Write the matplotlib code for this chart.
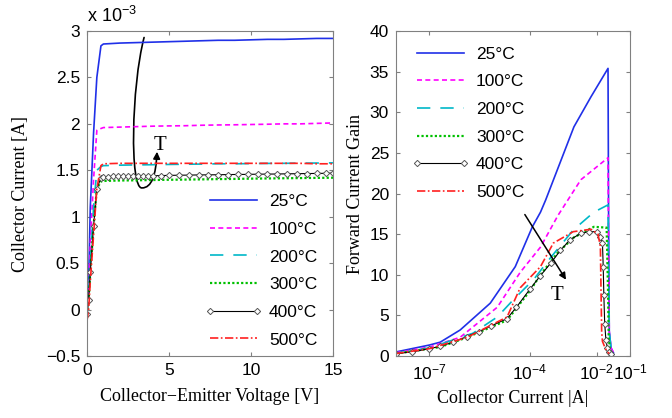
import matplotlib
matplotlib.use("Agg")
import matplotlib.pyplot as plt
import numpy as np
from matplotlib.path import Path
from matplotlib.patches import FancyArrowPatch
from matplotlib.ticker import FuncFormatter, FixedLocator, NullLocator

# ---- data: output characteristics (left) ----
temps = ["25°C", "100°C", "200°C", "300°C", "400°C", "500°C"]
vce = [0, 0.1, 0.2, 0.4, 0.6, 0.85, 1, 2, 3, 4, 5, 6, 7, 8, 9, 10, 11, 12, 13, 14, 15]
ic_25 = [0.0, 0.3, 1.1, 1.9, 2.5, 2.84, 2.86, 2.87, 2.875, 2.88, 2.885, 2.89, 2.895, 2.9, 2.9,
         2.905, 2.91, 2.91, 2.915, 2.92, 2.92]
ic_100 = [0.0, 0.2, 0.7, 1.4, 1.93, 1.95, 1.96, 1.965, 1.97, 1.975, 1.978, 1.98, 1.985, 1.988,
          1.99, 1.993, 1.996, 2.0, 2.0, 2.005, 2.01]
ic_200 = [0.0, 0.15, 0.5, 1.1, 1.5, 1.54, 1.55, 1.555, 1.558, 1.56, 1.563, 1.565, 1.567, 1.57,
          1.57, 1.572, 1.574, 1.575, 1.577, 1.578, 1.58]
ic_300 = [-0.05, 0.1, 0.4, 0.9, 1.3, 1.38, 1.385, 1.39, 1.392, 1.395, 1.398, 1.4, 1.402, 1.405,
          1.407, 1.41, 1.412, 1.414, 1.416, 1.418, 1.42]
vce_400 = [0, 0.1, 0.2, 0.4, 0.6, 0.85, 1.0, 1.3, 1.6, 1.9, 2.2, 2.5, 2.8, 3.1, 3.4, 3.7, 4.0, 4.5,
           5.0, 5.6, 6.2, 6.8, 7.4, 8.0, 8.6, 9.2, 9.8, 10.4, 11.0, 11.6, 12.2, 12.8, 13.4, 14.0, 14.6, 15.0]
ic_400 = [-0.05, 0.1, 0.4, 0.9, 1.3, 1.42, 1.43, 1.432, 1.434, 1.435, 1.436, 1.437, 1.438, 1.439,
          1.44, 1.441, 1.442, 1.443, 1.445, 1.447, 1.448, 1.45, 1.451, 1.452, 1.454, 1.455, 1.456,
          1.458, 1.459, 1.46, 1.462, 1.463, 1.465, 1.466, 1.468, 1.47]
ic_500 = [-0.12, 0.0, 0.3, 0.8, 1.3, 1.55, 1.57, 1.575, 1.575, 1.575, 1.575, 1.575, 1.575, 1.575,
          1.575, 1.575, 1.575, 1.575, 1.575, 1.57, 1.57]
ic_scale = 1e-3  # values above are in mA -> amps

# ---- data: current gain (right) ----
g25_ic = [1e-8, 1e-7, 2.1e-7, 8.3e-7, 6.6e-6, 3.7e-5, 1.2e-4, 2.1e-4, 3e-4, 2.1e-3, 6.8e-3,
          2.2e-2, 2.3e-2, 2.4e-2, 2.7e-2, 3.2e-2]
g25 = [0.5, 1.35, 1.7, 3.2, 6.5, 11.0, 15.9, 17.7, 19.2, 28.2, 31.9, 35.4, 15, 3, 1, 0.4]
g100_ic = [1e-8, 1e-7, 8.3e-7, 1.07e-5, 5.2e-5, 2.1e-4, 7e-4, 3.4e-3, 2.2e-2, 2.3e-2, 2.4e-2,
           2.7e-2, 3.2e-2]
g100 = [0.4, 1.1, 2.3, 6.0, 10.3, 13.4, 17.3, 21.7, 24.4, 12, 3, 1, 0.4]
g200_ic = [1e-8, 1e-7, 2e-6, 1.07e-5, 3.2e-5, 1.3e-4, 4.2e-4, 2e-3, 8.3e-3, 2.2e-2, 2.3e-2,
           2.4e-2, 2.7e-2, 3.2e-2]
g200 = [0.3, 1.0, 2.8, 4.8, 6.9, 9.4, 12.1, 15.5, 17.7, 18.6, 10, 3, 1, 0.4]
g300_ic = [1e-8, 2.1e-7, 1.35e-6, 2.1e-5, 1.05e-4, 2.1e-4, 6.8e-4, 2.1e-3, 8.3e-3, 2e-2, 2.2e-2,
           2.3e-2, 2.5e-2, 3e-2]
g300 = [0.3, 1.1, 2.3, 4.4, 8.1, 10.0, 12.7, 14.6, 15.9, 15.8, 8, 2.5, 0.8, 0.3]
g400_ic = [1e-8, 3e-8, 1e-7, 2.1e-7, 5e-7, 1.35e-6, 3e-6, 7e-6, 2.1e-5, 4e-5, 1.05e-4, 2.1e-4,
           4.2e-4, 8.3e-4, 1.6e-3, 3.4e-3, 6e-3, 1e-2, 1.3e-2, 1.5e-2, 1.58e-2, 1.65e-2, 1.75e-2,
           1.9e-2, 2.1e-2, 2.4e-2, 2.7e-2]
g400 = [0.3, 0.5, 0.9, 1.2, 1.7, 2.4, 3.0, 3.7, 4.6, 6.0, 8.3, 9.9, 11.4, 13.0, 14.3, 15.1, 15.3,
        15.3, 14.6, 13.9, 11, 7.5, 4, 2, 1, 0.5, 0.3]
g500_ic = [1e-8, 1e-7, 1.35e-6, 2.1e-5, 5.2e-5, 2.1e-4, 5.1e-4, 2e-3, 6.8e-3, 1.1e-2, 1.3e-2,
           1.36e-2, 1.42e-2, 1.5e-2, 1.8e-2, 2.1e-2, 2.4e-2]
g500 = [0.3, 0.9, 2.3, 4.8, 8.4, 11.0, 13.9, 15.3, 15.6, 15.0, 13.5, 8, 3, 1.8, 1, 0.5, 0.3]

# line styles per temperature
styles = [
    dict(color="#2030e8", ls="-", lw=1.2),
    dict(color="#ff00ff", ls=(0, (3, 2)), lw=1.2),
    dict(color="#00b8c8", ls=(0, (8, 6)), lw=1.2),
    dict(color="#00c000", ls=(0, (1, 1)), lw=1.6),
    dict(color="black", ls="-", lw=0.8, marker="D", ms=3.2, mfc="white", mec="#555555", mew=0.7),
    dict(color="#ff2020", ls=(0, (5, 1.5, 1, 1.5)), lw=1.2),
]

sans = "Liberation Sans"
serif = "Liberation Serif"
plt.rcParams["font.family"] = sans
plt.rcParams["mathtext.fontset"] = "custom"
plt.rcParams["mathtext.rm"] = sans

fig = plt.figure(figsize=(6.72, 4.18), dpi=100)
ax1 = fig.add_axes([87 / 672, 62 / 418, 246 / 672, 325 / 418])
ax2 = fig.add_axes([396 / 672, 62 / 418, 234 / 672, 325 / 418])

for ax in (ax1, ax2):
    for s in ax.spines.values():
        s.set_color("#808080")
    ax.tick_params(direction="in", top=True, right=True, length=3, color="#808080",
                   labelsize=12.5, labelcolor="black", pad=5)

# left plot
left_x = [vce, vce, vce, vce, vce_400, vce]
left_series = [ic_25, ic_100, ic_200, ic_300, ic_400, ic_500]
for lab, xs, ys, st in zip(temps, left_x, left_series, styles):
    ax1.plot(xs, np.array(ys) * ic_scale, label=lab, **st)

ax1.set_xlim(0, 15)
ax1.set_ylim(-0.5e-3, 3e-3)
ax1.set_xticks([0, 5, 10, 15])
ax1.set_yticks(np.arange(-0.5, 3.01, 0.5) * ic_scale)
ax1.yaxis.set_major_formatter(FuncFormatter(lambda v, p: f"{v / ic_scale:g}".replace("-", "\u2212")))
ax1.text(0.0, 1.015, "x 10$^{-3}$", transform=ax1.transAxes, fontsize=13, ha="left", va="bottom")
ax1.set_xlabel("Collector\u2212Emitter Voltage [V]", family=serif, fontsize=13, labelpad=7)
ax1.set_ylabel("Collector Current [A]", family=serif, fontsize=13, labelpad=12)
ax1.legend(loc="lower right", bbox_to_anchor=(1.0, -0.022), frameon=False, fontsize=12.5,
           handlelength=3.3, labelspacing=0.72, handletextpad=0.4, numpoints=2)

# curved temperature arrow on the left plot
arrow_path = Path(
    [(3.48, 2.93e-3), (2.7, 2.4e-3), (2.6, 1.3e-3), (3.35, 1.31e-3),
     (3.95, 1.31e-3), (4.2, 1.45e-3), (4.27, 1.70e-3)],
    [Path.MOVETO, Path.CURVE4, Path.CURVE4, Path.CURVE4, Path.CURVE4, Path.CURVE4, Path.CURVE4])
ax1.add_patch(FancyArrowPatch(path=arrow_path, arrowstyle="-|>", mutation_scale=10,
                              color="black", lw=1.2, transform=ax1.transData))
ax1.text(4.45, 1.77e-3, "T", family=serif, fontsize=15, ha="center", va="center")

# right plot
right_series = [(g25_ic, g25), (g100_ic, g100), (g200_ic, g200), (g300_ic, g300),
                (g400_ic, g400), (g500_ic, g500)]
for lab, (xs, ys), st in zip(temps, right_series, styles):
    ax2.plot(xs, ys, label=lab, **st)

ax2.set_xscale("log")
ax2.set_xlim(1e-8, 1e-1)
ax2.set_ylim(0, 40)
ax2.set_yticks(np.arange(0, 41, 5))
ax2.xaxis.set_major_locator(FixedLocator([1e-7, 1e-4, 1e-2, 1e-1]))
ax2.xaxis.set_minor_locator(NullLocator())
ax2.set_xlabel("Collector Current |A|", family=serif, fontsize=13, labelpad=5)
ax2.set_ylabel("Forward Current Gain", family=serif, fontsize=13, labelpad=4)
ax2.legend(loc="upper left", bbox_to_anchor=(0.0, 1.0), frameon=False, fontsize=12.5,
           handlelength=3.3, labelspacing=0.72, handletextpad=0.4, numpoints=2)

ax2.annotate("", xy=(10 ** -2.87, 9.1), xytext=(10 ** -4.19, 17.7),
             arrowprops=dict(arrowstyle="-|>", color="black", lw=1.1, mutation_scale=10))
ax2.text(10 ** -3.17, 7.5, "T", family=serif, fontsize=15, ha="center", va="center")

fig.savefig("out.png", dpi=100)
